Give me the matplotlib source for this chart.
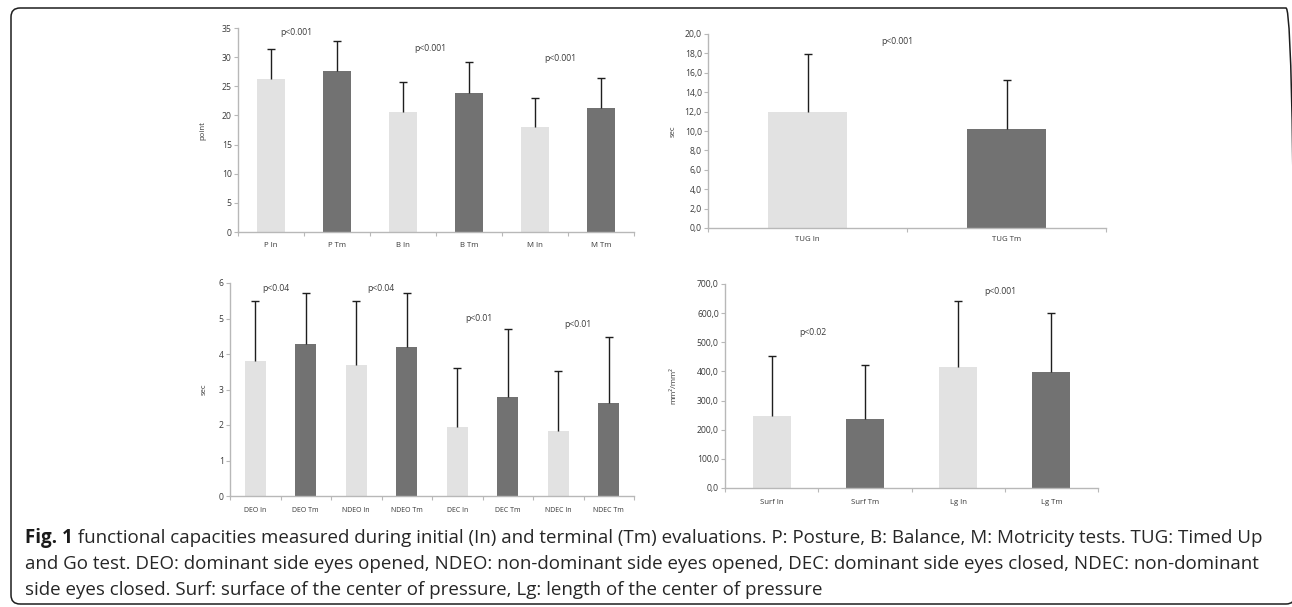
import matplotlib
matplotlib.use("Agg")
import matplotlib.pyplot as plt
from matplotlib.patches import FancyBboxPatch
from matplotlib.transforms import IdentityTransform
from matplotlib.ticker import FixedLocator, FuncFormatter, MultipleLocator

plt.rcParams['font.family'] = ['Open Sans', 'DejaVu Sans']

# ---------------- data ----------------
score_labels = ['P In', 'P Tm', 'B In', 'B Tm', 'M In', 'M Tm']
score_means = [26.3, 27.7, 20.6, 23.9, 18.1, 21.3]
score_sd = [5.1, 5.1, 5.1, 5.2, 4.9, 5.1]
score_p = ['p<0.001', 'p<0.001', 'p<0.001']

tug_labels = ['TUG In', 'TUG Tm']
tug_means = [12.0, 10.2]
tug_sd = [5.9, 5.1]
tug_p = ['p<0.001']

stance_labels = ['DEO In', 'DEO Tm', 'NDEO In', 'NDEO Tm',
                 'DEC In', 'DEC Tm', 'NDEC In', 'NDEC Tm']
stance_means = [3.81, 4.29, 3.70, 4.21, 1.93, 2.80, 1.82, 2.61]
stance_sd = [1.69, 1.42, 1.80, 1.50, 1.68, 1.90, 1.69, 1.88]
stance_p = ['p<0.04', 'p<0.04', 'p<0.01', 'p<0.01']

cop_labels = ['Surf In', 'Surf Tm', 'Lg In', 'Lg Tm']
cop_means = [246, 236, 414, 397]
cop_sd = [208, 187, 226, 205]
cop_p = ['p<0.02', 'p<0.001']

caption_bold = 'Fig. 1'
caption_lines = [
    ' functional capacities measured during initial (In) and terminal (Tm) evaluations. P: Posture, B: Balance, M: Motricity tests. TUG: Timed Up',
    'and Go test. DEO: dominant side eyes opened, NDEO: non-dominant side eyes opened, DEC: dominant side eyes closed, NDEC: non-dominant',
    'side eyes closed. Surf: surface of the center of pressure, Lg: length of the center of pressure',
]

# ---------------- style ----------------
W, H = 1292, 607
LIGHT = '#e2e2e2'
DARK = '#727272'
ERR = '#1e1e1e'
SPINE = '#b8b8b8'
TXT = '#3a3a3a'

fig = plt.figure(figsize=(W / 100, H / 100), dpi=100)
fig.patch.set_facecolor('white')


def px_axes(left, right, top, bottom):
    return fig.add_axes([left / W, 1 - bottom / H, (right - left) / W, (bottom - top) / H])


def panel(ax, labels, means, sd, ymax, ystep, fmt, ylabel, ptexts, ppos,
          barw, labelpad_x, ylabelpad):
    n = len(labels)
    x = list(range(n))
    colors = [LIGHT if i % 2 == 0 else DARK for i in range(n)]
    ax.bar(x, means, width=barw, color=colors, zorder=2)
    eb = ax.errorbar(x, means, yerr=[[0] * n, sd], fmt='none', ecolor=ERR,
                     elinewidth=1.0, capsize=3.0, capthick=1.0, zorder=3)
    eb[1][0].set_visible(False)  # no lower caps
    ax.set_xlim(-0.5, n - 0.5)
    ax.set_ylim(0, ymax)
    for s in ['top', 'right']:
        ax.spines[s].set_visible(False)
    for s in ['left', 'bottom']:
        ax.spines[s].set_color(SPINE)
        ax.spines[s].set_linewidth(1.0)
    ax.yaxis.set_major_locator(MultipleLocator(ystep))
    ax.yaxis.set_major_formatter(FuncFormatter(fmt))
    ax.set_xticks(x)
    ax.set_xticklabels(labels)
    ax.xaxis.set_minor_locator(FixedLocator([i + 0.5 for i in range(-1, n)]))
    ax.tick_params(axis='x', which='major', length=0, pad=labelpad_x,
                   labelsize=5.6, labelcolor=TXT)
    ax.tick_params(axis='x', which='minor', length=3, width=0.8, color=SPINE,
                   direction='out')
    ax.tick_params(axis='y', which='major', length=3, width=0.8, color=SPINE,
                   direction='out', labelsize=6.2, labelcolor=TXT, pad=1.5)
    ax.set_ylabel(ylabel, fontsize=5.6, color=TXT, labelpad=ylabelpad)
    for t, (px, py) in zip(ptexts, ppos):
        ax.text(px, py, t, ha='center', va='center', fontsize=6.2, color=TXT)
    ax.set_facecolor('none')


# top-left: scores
ax1 = px_axes(238, 634, 28, 232)
panel(ax1, score_labels, score_means, score_sd, 35, 5, lambda v, p: f'{v:.0f}',
      'point', score_p, [(0.39, 34.3), (2.41, 31.4), (4.38, 29.7)],
      0.41, 7, 11)

# top-right: TUG
ax2 = px_axes(708, 1106, 34, 228)
panel(ax2, tug_labels, tug_means, tug_sd, 20, 2,
      lambda v, p: f'{v:.1f}'.replace('.', ','),
      'sec', tug_p, [(0.45, 19.2)], 0.40, 6, 6)

# bottom-left: stance
ax3 = px_axes(230, 634, 283, 496)
panel(ax3, stance_labels, stance_means, stance_sd, 6, 1, lambda v, p: f'{v:.0f}',
      'sec', stance_p, [(0.41, 5.84), (2.49, 5.84), (4.43, 4.99), (6.39, 4.82)],
      0.42, 8, 8)
ax3.tick_params(axis='x', which='major', labelsize=5.0)

# bottom-right: COP
ax4 = px_axes(725, 1098, 284, 488)
panel(ax4, cop_labels, cop_means, cop_sd, 700, 100,
      lambda v, p: f'{v:.1f}'.replace('.', ','),
      'mm²/mm²', cop_p, [(0.44, 535), (2.45, 673)], 0.41, 8, 14)

# ---------------- frame (pixel coordinates, origin bottom-left) ----------------
frame = FancyBboxPatch((11, H - 604), 1295 - 11, 604 - 8,
                       boxstyle='round,pad=0,rounding_size=9',
                       transform=IdentityTransform(), fill=False,
                       edgecolor='#1e1e1e', linewidth=1.1, clip_on=False)
fig.patches.append(frame)

# ---------------- caption ----------------
target_w = 1258 - 25
fs = 12.0
renderer = fig.canvas.get_renderer()
tb = fig.text(25 / W, 1 - 543 / H, caption_bold, fontsize=fs, fontweight='bold',
              color='#1a1a1a', va='baseline', ha='left')
t1 = fig.text(0, 1 - 543 / H, caption_lines[0], fontsize=fs, color='#262626',
              va='baseline', ha='left')
wb = tb.get_window_extent(renderer).width
w1 = t1.get_window_extent(renderer).width
fs = fs * target_w / (wb + w1)
tb.set_fontsize(fs)
t1.set_fontsize(fs)
wb = tb.get_window_extent(renderer).width
t1.set_x((25 + wb) / W)
for i, line in enumerate(caption_lines[1:], start=1):
    fig.text(25 / W, 1 - (543 + 26 * i) / H, line, fontsize=fs, color='#262626',
             va='baseline', ha='left')

fig.savefig('out.png', dpi=100, facecolor='white')
